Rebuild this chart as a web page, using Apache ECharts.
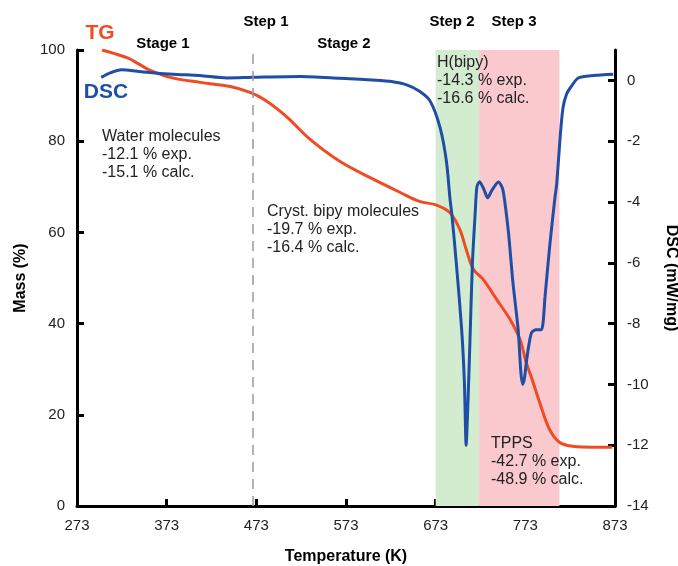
<!DOCTYPE html>
<html>
<head>
<meta charset="utf-8">
<script src="https://cdn.jsdelivr.net/npm/echarts@6/dist/echarts.min.js"></script>
<style>
  html, body { margin: 0; padding: 0; background: #fff; }
  #chart { width: 678px; height: 566px; }
</style>
</head>
<body>
<div id="chart"></div>
<script>
// TG curve: [temperature (K), mass (%)]
const tgPoints = [
  [301, 100], [313, 99.3], [330, 98.2], [343, 96.8], [354, 95.6], [377, 94.0],
  [410, 92.9], [444, 92.0], [466, 90.7], [483, 89.0], [500, 86.5], [510, 84.8],
  [533, 80.4], [566, 75.6], [600, 72.0], [633, 68.8], [655, 66.8], [674, 66.0],
  [689, 64.3], [700, 60.6], [707, 56.3], [715, 51.9], [726, 49.7], [741, 45.3],
  [756, 40.9], [767, 36.5], [774, 31.5], [781, 27.5], [789, 22.7], [800, 16.8],
  [811, 14.0], [826, 13.1], [850, 12.9], [870, 12.9]
];
// DSC curve: [temperature (K), mW/mg]
const dscPoints = [
  [300, 0.1], [310, 0.25], [323, 0.35], [340, 0.3], [354, 0.26], [380, 0.2],
  [410, 0.16], [440, 0.08], [469, 0.1], [522, 0.13], [566, 0.07], [611, 0],
  [622, -0.03], [640, -0.14], [655, -0.36], [667, -0.69], [678, -1.56], [685, -2.66],
  [689, -3.9], [691, -4.4], [696, -6.0], [702, -8.2], [705, -9.9], [707, -12.0],
  [709, -10.6], [711, -8.8], [714, -6.0], [717, -4.4], [719, -3.5], [722, -3.33],
  [727, -3.6], [731, -3.86], [736, -3.6], [743, -3.34], [748, -3.6], [754, -4.95],
  [759, -6.6], [765, -8.2], [768, -9.6], [770, -10.0], [772, -9.8], [774, -9.3],
  [777, -8.7], [780, -8.3], [785, -8.2], [791, -8.2], [795, -7.1], [800, -5.5],
  [806, -3.86], [808, -3.4], [812, -1.8], [815, -0.9], [819, -0.45], [823, -0.25],
  [832, 0.08], [849, 0.16], [871, 0.2]
];
const step2Range = [673, 721.5];
const step3Range = [721.5, 811];
const step1Line = 469;
const dscTicks = [-14, -12, -10, -8, -6, -4, -2, 0];

const RED = '#ef4b24';
const BLUE = '#1e4ea6';
const INK = '#222';
const FONT = '"Liberation Sans", Arial, sans-serif';

const axisBase = {
  axisLine: { show: true, onZero: false, lineStyle: { color: '#000', width: 3 } },
  axisTick: { show: true, inside: true, length: 7, lineStyle: { color: '#000', width: 3 } },
  axisLabel: { color: INK, fontSize: 15, fontFamily: FONT, margin: 12 },
  splitLine: { show: false },
  nameTextStyle: { color: '#000', fontSize: 16, fontWeight: 'bold', fontFamily: FONT }
};

const chart = echarts.init(document.getElementById('chart'));

function label(text, x, y) {
  return {
    type: 'text', x: x, y: y, z: 100,
    style: {
      text: text, fill: INK, font: '16px ' + FONT,
      textVerticalAlign: 'top', lineHeight: 18
    }
  };
}
function bold(text, cx, cy, size, color) {
  return {
    type: 'text', x: cx, y: cy, z: 100,
    style: {
      text: text, fill: color || '#000', font: 'bold ' + size + 'px ' + FONT,
      textAlign: 'center', textVerticalAlign: 'middle'
    }
  };
}

chart.setOption({
  animation: false,
  grid: { left: 77, right: 63, top: 50, bottom: 60, outerBoundsMode: 'none', containLabel: false },
  xAxis: Object.assign({}, axisBase, {
    type: 'value', min: 273, max: 873, interval: 100,
    name: 'Temperature (K)', nameLocation: 'middle', nameGap: 43
  }),
  yAxis: [
    Object.assign({}, axisBase, {
      type: 'value', min: 0, max: 100, interval: 20, position: 'left',
      name: 'Mass (%)', nameLocation: 'middle', nameGap: 48, nameRotate: 90
    }),
    Object.assign({}, axisBase, {
      type: 'value', min: -14, max: 1, position: 'right',
      axisTick: Object.assign({}, axisBase.axisTick, { customValues: dscTicks }),
      axisLabel: Object.assign({}, axisBase.axisLabel, { customValues: dscTicks }),
      name: 'DSC (mW/mg)', nameLocation: 'middle', nameGap: 48, nameRotate: -90
    })
  ],
  series: [
    {
      name: 'TG', type: 'line', yAxisIndex: 0, data: tgPoints,
      showSymbol: false, smooth: 0.35,
      lineStyle: { color: RED, width: 3 }, z: 3,
      markArea: {
        silent: true,
        data: [
          [{ xAxis: step2Range[0], itemStyle: { color: '#d3ecd0' } }, { xAxis: step2Range[1] }],
          [{ xAxis: step3Range[0], itemStyle: { color: '#fac9ce' } }, { xAxis: step3Range[1] }]
        ]
      },
      markLine: {
        silent: true, symbol: 'none', label: { show: false },
        lineStyle: { color: '#999', width: 1.5, type: [10, 7] },
        data: [{ xAxis: step1Line }]
      }
    },
    {
      name: 'DSC', type: 'line', yAxisIndex: 1, data: dscPoints,
      showSymbol: false, smooth: 0.25,
      lineStyle: { color: BLUE, width: 3 }, z: 4
    }
  ],
  graphic: [
    bold('TG', 100, 33, 21, RED),
    bold('DSC', 106, 92, 21, BLUE),
    bold('Stage 1', 163, 44, 15),
    bold('Step 1', 266, 22, 15),
    bold('Stage 2', 344, 44, 15),
    bold('Step 2', 452, 22, 15),
    bold('Step 3', 514, 22, 15),
    label('Water molecules\n-12.1 % exp.\n-15.1 % calc.', 102, 128),
    label('Cryst. bipy molecules\n-19.7 % exp.\n-16.4 % calc.', 267, 203),
    label('H(bipy)\n-14.3 % exp.\n-16.6 % calc.', 437, 54),
    label('TPPS\n-42.7 % exp.\n-48.9 % calc.', 491, 435)
  ]
});
</script>
</body>
</html>
